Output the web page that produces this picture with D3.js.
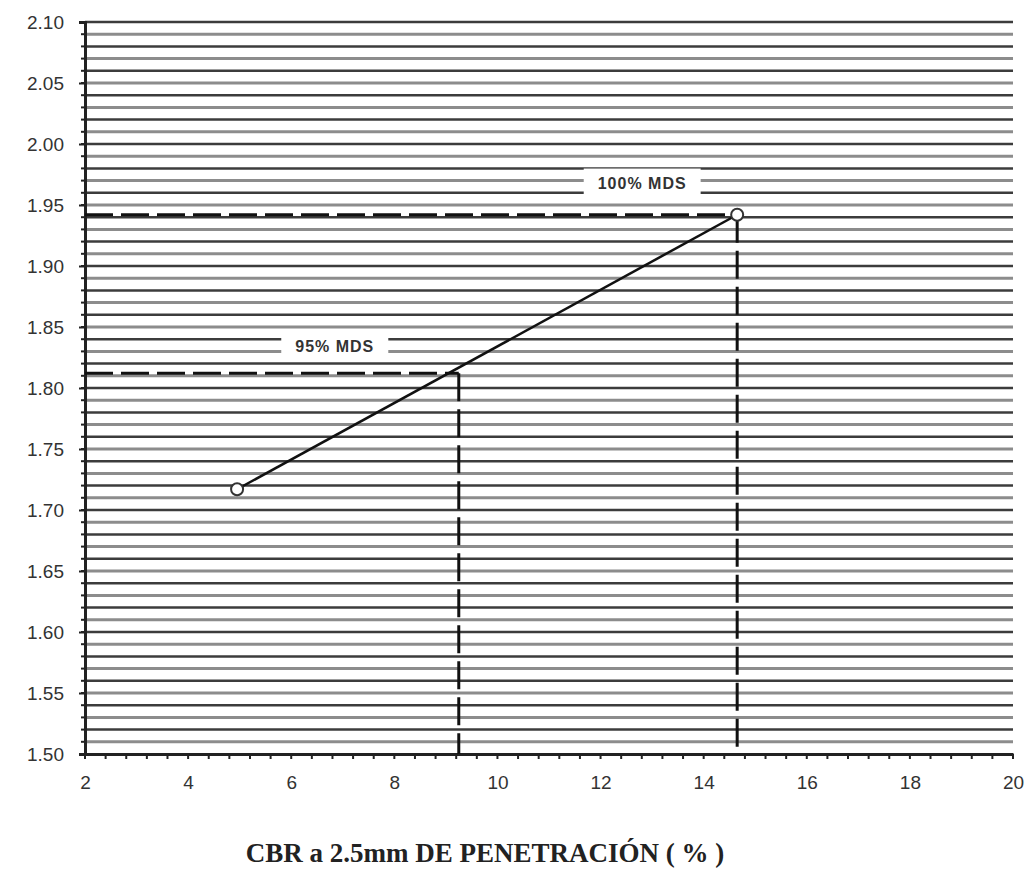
<!DOCTYPE html>
<html><head><meta charset="utf-8">
<script src="https://cdn.jsdelivr.net/npm/d3@7"></script>
<style>body{margin:0;background:#fff}</style>
</head><body>
<script>
const cbrValues = [4.95, 14.65];
const densityValues = [1.717, 1.942];
const refLabels = ["95% MDS", "100% MDS"];
const refCbr = [9.25, 14.65];
const refDensity = [1.812, 1.942];
const xTicks = [2,4,6,8,10,12,14,16,18,20];
const yTicks = [1.50,1.55,1.60,1.65,1.70,1.75,1.80,1.85,1.90,1.95,2.00,2.05,2.10];
const xTitle = "CBR a 2.5mm DE PENETRACIÓN  ( % )";

const W=1032,H=877;
const svg=d3.select("body").append("svg").attr("width",W).attr("height",H);
const x=d3.scaleLinear().domain([2,20]).range([85,1013]);
const y=d3.scaleLinear().domain([1.50,2.10]).range([754,22]);

// horizontal grid every 0.01
const grid=d3.range(1,61).map(i=>1.50+i*0.01);
svg.append("g").selectAll("line").data(grid).join("line")
  .attr("x1",x(2)).attr("x2",x(20))
  .attr("y1",d=>y(d)).attr("y2",d=>y(d))
  .attr("stroke",(d,i)=>i%2===0?"#8c8c8c":"#3c3c3c")
  .attr("stroke-width",(d,i)=>i%2===0?3:2.5);

// axes
const yAxis=d3.axisLeft(y).tickValues(yTicks).tickFormat(d3.format(".2f")).tickSize(6).tickPadding(15);
const gy=svg.append("g").attr("transform",`translate(${x(2)},0)`).call(yAxis);
gy.selectAll("text").attr("font-family","Liberation Sans, Arial, sans-serif").attr("font-size",19).attr("fill","#333");
gy.select(".domain").attr("stroke","#222").attr("stroke-width",3);
gy.selectAll(".tick line").attr("stroke","#222").attr("stroke-width",2);
// y minor ticks
svg.append("g").selectAll("line").data(d3.range(0,61).map(i=>1.50+i*0.01)).join("line")
  .attr("x1",x(2)-4).attr("x2",x(2)).attr("y1",d=>y(d)).attr("y2",d=>y(d))
  .attr("stroke","#222").attr("stroke-width",2);

const xAxis=d3.axisBottom(x).tickValues(xTicks).tickFormat(d3.format("d")).tickSize(0).tickPadding(22);
const gx=svg.append("g").attr("transform",`translate(0,${y(1.50)})`).call(xAxis);
gx.selectAll("text").attr("font-family","Liberation Sans, Arial, sans-serif").attr("font-size",19).attr("fill","#333");
gx.select(".domain").attr("stroke","#222").attr("stroke-width",3);
svg.append("g").selectAll("line").data(d3.range(0,46).map(i=>2+i*0.4)).join("line")
  .attr("x1",d=>x(d)).attr("x2",d=>x(d)).attr("y1",y(1.50)).attr("y2",y(1.50)+5)
  .attr("stroke","#222").attr("stroke-width",2);

// reference dashed lines
const refs=refLabels.map((l,i)=>({label:l,c:refCbr[i],d:refDensity[i]}));
const rg=svg.append("g");
refs.forEach(r=>{
  rg.append("line").attr("x1",x(2)).attr("x2",x(r.c)).attr("y1",y(r.d)).attr("y2",y(r.d))
    .attr("stroke","#111").attr("stroke-width",3).attr("stroke-dasharray","28,8");
  rg.append("line").attr("x1",x(r.c)).attr("x2",x(r.c)).attr("y1",y(r.d)).attr("y2",y(1.50))
    .attr("stroke","#111").attr("stroke-width",3).attr("stroke-dasharray","28,8");
});

// labels with white box
const lg=svg.append("g");
refs.forEach((r,i)=>{
  const lx = i===0 ? x(r.c)-124 : x(r.c)-95;
  const ly = i===0 ? y(r.d+0.022) : y(r.d+0.026);
  const t=lg.append("text").attr("x",lx).attr("y",ly).attr("text-anchor","middle")
    .attr("dominant-baseline","central")
    .attr("font-family","Liberation Sans, Arial, sans-serif").attr("font-weight","bold")
    .attr("font-size",16).attr("letter-spacing",1).attr("fill","#333").text(r.label);
  const bb=t.node().getBBox();
  lg.insert("rect",()=>t.node()).attr("x",bb.x-14).attr("y",bb.y-6)
    .attr("width",bb.width+28).attr("height",bb.height+12).attr("fill","#fff");
});

// data line
const pts=cbrValues.map((c,i)=>[c,densityValues[i]]);
svg.append("path").datum(pts).attr("d",d3.line().x(d=>x(d[0])).y(d=>y(d[1])))
  .attr("stroke","#111").attr("stroke-width",2.5).attr("fill","none");
svg.append("g").selectAll("circle").data(pts).join("circle")
  .attr("cx",d=>x(d[0])).attr("cy",d=>y(d[1])).attr("r",6)
  .attr("fill","#fff").attr("stroke","#333").attr("stroke-width",2);

svg.append("text").attr("x",485).attr("y",862).attr("text-anchor","middle")
  .attr("font-family","Liberation Serif, Times New Roman, serif").attr("font-weight","bold")
  .attr("font-size",27).attr("fill","#222").text(xTitle);
</script>
</body></html>
